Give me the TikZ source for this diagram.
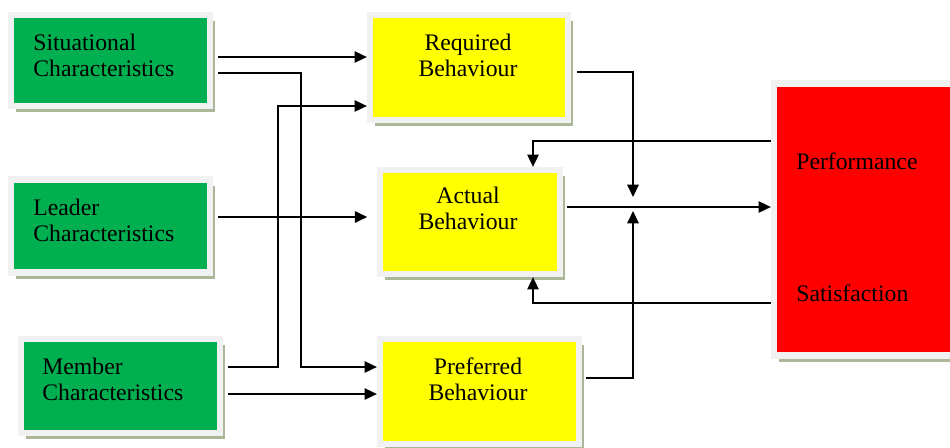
\documentclass[tikz,border=0pt]{standalone}
\usepackage{fontspec}
\setmainfont{Liberation Serif}
\usepackage{tikz}
\usetikzlibrary{shapes,arrows.meta,positioning,shadows}

\definecolor{boxgreen}{RGB}{0,176,80}
\definecolor{boxyellow}{RGB}{255,255,0}
\definecolor{boxred}{RGB}{255,0,0}
\definecolor{framegray}{RGB}{241,241,241}
\definecolor{shadowgray}{RGB}{172,182,152}

\tikzset{
    box/.style={rectangle, draw=framegray, line width=3.6pt,
        drop shadow={shadow xshift=2.8pt, shadow yshift=-3.6pt, fill=shadowgray, opacity=1}},
    greenbox/.style={box, fill=boxgreen, minimum width=3.98cm},
    yellowbox/.style={box, fill=boxyellow},
    lbl/.style={inner sep=0pt, font=\fontsize{13.5}{14.7}\selectfont},
    link/.style={line width=0.85pt, -{Triangle[length=7pt,width=6.5pt]}},
    plain/.style={line width=0.85pt}
}

\begin{document}
\begin{tikzpicture}[x=0.02cm, y=-0.02cm]
            \useasboundingbox (0,0) rectangle (950,447);

            \node[greenbox, minimum height=1.82cm] (sit) at (110.5,60.5) {};
            \node[greenbox, minimum height=1.86cm] (lead) at (110.5,226) {};
            \node[greenbox, minimum height=1.88cm] (mem) at (120.5,386) {};
            \node[yellowbox, minimum width=3.96cm, minimum height=2.1cm] (req) at (469,67.5) {};
            \node[yellowbox, minimum width=3.6cm, minimum height=2.08cm] (act) at (470,222) {};
            \node[yellowbox, minimum width=3.98cm, minimum height=2.1cm] (pref) at (479.5,391.5) {};
            \node[box, fill=boxred, minimum width=3.72cm, minimum height=5.44cm] (res) at (867,219.5) {};

            \node[lbl, anchor=west, align=left] (sittxt) at (33,55) {Situational\\Characteristics};
            \node[lbl, anchor=west, align=left] (leadtxt) at (33,220) {Leader\\Characteristics};
            \node[lbl, anchor=west, align=left] (memtxt) at (42,379) {Member\\Characteristics};
            \node[lbl, align=center] (reqtxt) at (468,55) {Required\\Behaviour};
            \node[lbl, align=center] (acttxt) at (468,208.5) {Actual\\Behaviour};
            \node[lbl, align=center] (preftxt) at (478,379) {Preferred\\Behaviour};
            \node[lbl, anchor=west] (perf) at (796,161) {Performance};
            \node[lbl, anchor=west] (sat) at (796,293) {Satisfaction};

            \coordinate (jtop) at (633,197);
            \coordinate (jbot) at (633,211);

            \draw[link, shorten <=2.8pt] (sit.east |- 0,57) -- (req.west |- 0,57);
            \draw[link, shorten <=2.8pt] (sit.east |- 0,73) -- (301,73) |- (pref.west |- 0,367);
            \draw[link, shorten <=2.8pt, shorten >=5.5pt] (lead.east |- 0,217) -- (act.west |- 0,217);
            \draw[link, shorten <=2.8pt] (mem.east |- 0,367) -- (278,367) |- (req.west |- 0,106);
            \draw[link, shorten <=2.8pt] (mem.east |- 0,394) -- (pref.west |- 0,394);

            \draw[link, shorten <=3.4pt] (req.east |- 0,72) -| (jtop);
            \draw[link, shorten <=2.3pt] (pref.east |- 0,378) -| (jbot);
            \draw[link, shorten <=2.3pt] (act.east |- 0,207) -- (res.west |- 0,207);

            \draw[link] (res.west |- 0,141) -| (act.north -| 533,0);
            \draw[link] (res.west |- 0,303) -| (act.south -| 533,0);
        \end{tikzpicture}
\end{document}
